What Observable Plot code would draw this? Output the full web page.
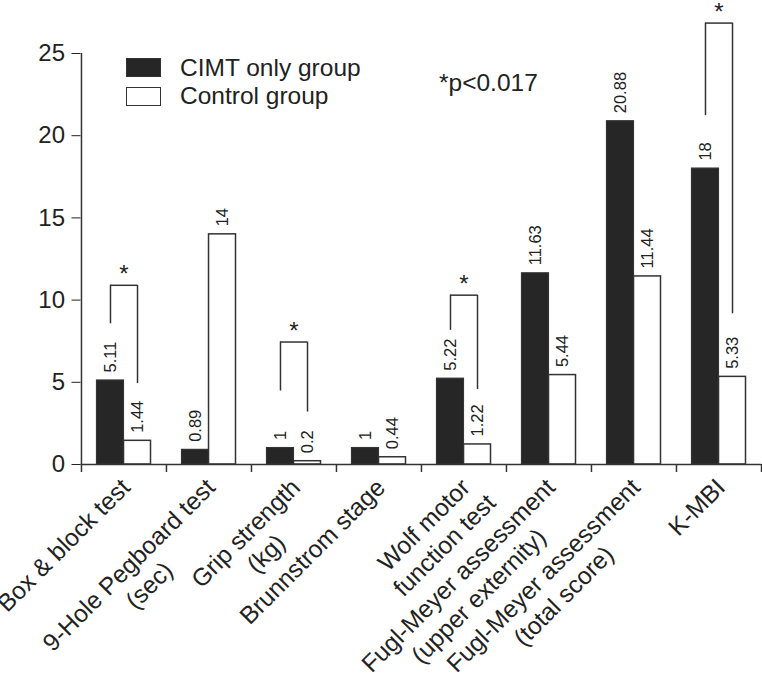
<!DOCTYPE html>
<html><head><meta charset="utf-8">
<script src="https://cdn.jsdelivr.net/npm/d3@7"></script>
<script src="https://cdn.jsdelivr.net/npm/@observablehq/plot@0.6"></script>
<style>
body{margin:0;background:#fff;}
#wrap{position:relative;width:762px;height:678px;font-family:"Liberation Sans",Arial,sans-serif;color:#222;}
.lg{position:absolute;font-size:24.5px;line-height:24px;white-space:nowrap;color:#222;}
.sw{position:absolute;box-sizing:border-box;width:35px;height:18.5px;}
</style></head><body><div id="wrap"></div>
<script>
// ---- data ----
const categories = [
  "Box & block test",
  "9-Hole Pegboard test\n(sec)",
  "Grip strength\n(kg)",
  "Brunnstrom stage",
  "Wolf motor\nfunction test",
  "Fugl-Meyer assessment\n(upper externity)",
  "Fugl-Meyer assessment\n(total score)",
  "K-MBI"
];
const cimtValues    = [5.11, 0.89, 1, 1, 5.22, 11.63, 20.88, 18];
const controlValues = [1.44, 14, 0.2, 0.44, 1.22, 5.44, 11.44, 5.33];
const yTicks = [0, 5, 10, 15, 20, 25];
const seriesNames = ["CIMT only group", "Control group"];
const noteText = "*p<0.017";
// significance brackets (values in y units)
const sigCategories = [categories[0], categories[2], categories[4], categories[7]];
const sigTop        = [10.9, 7.45, 10.3, 26.85];
const sigCimtEnd    = [8.56, 4.47, 8.16, 21.22];
const sigControlEnd = [4.92, 3.19, 4.56, 9.17];

// ---- layout ----
const W = 762, H = 678, mL = 80.5, mR = 1, mT = 53, mB = 214;
const bw = (W - mL - mR) / categories.length;
const half = bw / 2;
const barPad = 15.5;
const off = (half - barPad) / 2;
const pxPerUnit = (H - mT - mB) / 25;
const ink = "#333";
const font = "Liberation Sans, Arial, sans-serif";
const labelSize = 24.5;

const cimtData = categories.map((c, i) => ({c, v: cimtValues[i]}));
const controlData = categories.map((c, i) => ({c, v: controlValues[i]}));
const sigData = sigCategories.map((c, i) => ({c, top: sigTop[i], a: sigCimtEnd[i], b: sigControlEnd[i]}));

const ctx = document.createElement("canvas").getContext("2d");
ctx.font = labelSize + "px 'Liberation Sans'";
const labelMarks = categories.map(c => {
  const first = c.split("\n")[0];
  const k = Math.SQRT1_2 * ctx.measureText(first).width / 2;
  return Plot.text([c], {
    x: d => d, text: d => d, frameAnchor: "bottom",
    rotate: -45, textAnchor: "middle", lineAnchor: "top", lineHeight: 1.18,
    fontSize: labelSize, fill: "#222", dx: -7 - k, dy: 10 + k
  });
});

const tickDepth = 8 / pxPerUnit;

const chart = Plot.plot({
  width: W, height: H,
  marginLeft: mL, marginRight: mR, marginTop: mT, marginBottom: mB,
  style: {fontFamily: font, fontSize: "24px", color: "#222", background: "transparent"},
  x: {type: "band", domain: categories, padding: 0, axis: null},
  y: {domain: [0, 25], ticks: yTicks, tickSize: 9, tickPadding: 7, label: null, tickFormat: d => String(d)},
  marks: [
    Plot.barY(cimtData, {x: "c", y: "v", fill: "#262626", stroke: ink, strokeWidth: 1.2, insetLeft: barPad, insetRight: half}),
    Plot.barY(controlData, {x: "c", y: "v", fill: "#fff", stroke: ink, strokeWidth: 1.5, insetLeft: half, insetRight: barPad}),
    Plot.text(cimtData, {x: "c", y: "v", text: d => String(d.v), rotate: -90, textAnchor: "start", dx: -off, dy: -8, fontSize: 16.5, fill: "#222"}),
    Plot.text(controlData, {x: "c", y: "v", text: d => String(d.v), rotate: -90, textAnchor: "start", dx: off, dy: -8, fontSize: 16.5, fill: "#222"}),
    // brackets
    Plot.ruleX(sigData, {x: "c", y1: "a", y2: "top", dx: -off, stroke: ink, strokeWidth: 1.5}),
    Plot.ruleX(sigData, {x: "c", y1: "b", y2: "top", dx: off, stroke: ink, strokeWidth: 1.5}),
    Plot.tickY(sigData, {x: "c", y: "top", insetLeft: half - off, insetRight: half - off, stroke: ink, strokeWidth: 1.5}),
    Plot.text(sigData, {x: "c", y: "top", text: () => "*", fontSize: 24, dy: -11, fill: "#222"}),
    // axes lines and boundary ticks
    Plot.ruleY([0], {stroke: ink, strokeWidth: 1.5}),
    Plot.ruleX([categories[0]], {y1: 0, y2: 25, dx: -half, stroke: ink, strokeWidth: 1.5}),
    Plot.ruleX(categories, {y1: 0, y2: -tickDepth, dx: -half, stroke: ink, strokeWidth: 1.5}),
    Plot.ruleX([categories[categories.length - 1]], {y1: 0, y2: -tickDepth, dx: half, stroke: ink, strokeWidth: 1.5}),
    ...labelMarks
  ]
});

const wrap = document.getElementById("wrap");
wrap.appendChild(chart);

function addDiv(cls, css, text) {
  const d = document.createElement("div");
  d.className = cls;
  Object.assign(d.style, css);
  if (text) d.textContent = text;
  wrap.appendChild(d);
}
addDiv("sw", {left: "126px", top: "58.3px", background: "#262626", border: "1.2px solid #333"});
addDiv("sw", {left: "126px", top: "87.3px", background: "#fff", border: "1.5px solid #333"});
addDiv("lg", {left: "180px", top: "56px"}, seriesNames[0]);
addDiv("lg", {left: "180px", top: "84.4px"}, seriesNames[1]);
addDiv("lg", {left: "439px", top: "71.2px"}, noteText);
</script>
</body></html>
